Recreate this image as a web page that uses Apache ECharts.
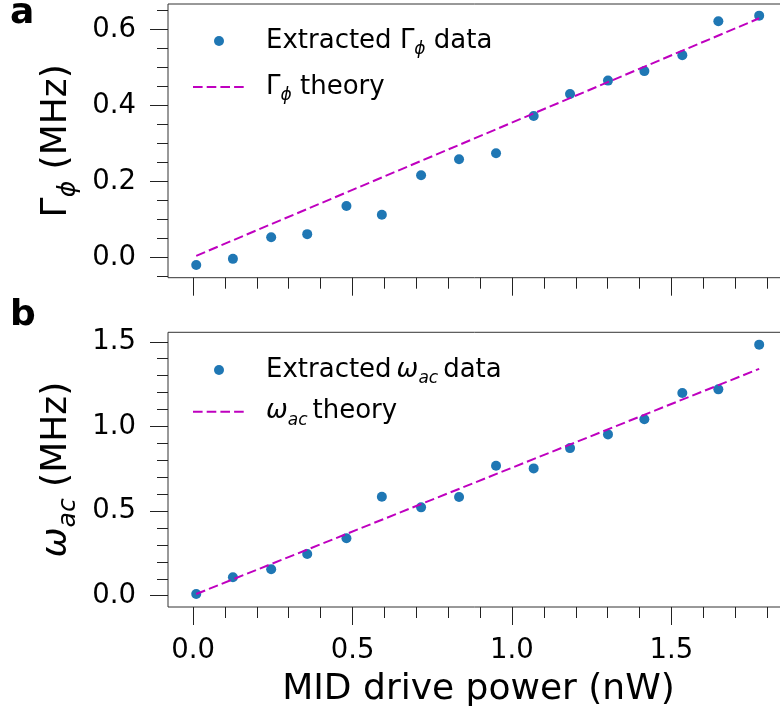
<!DOCTYPE html>
<html><head><meta charset="utf-8">
<script src="https://cdn.jsdelivr.net/npm/echarts@6/dist/echarts.min.js"></script>
<style>html,body{margin:0;padding:0;background:#fff}#c{width:780px;height:715px}</style>
</head><body><div id="c"></div>
<script>
// ---- data ----
const power    = [0.010, 0.125, 0.245, 0.358, 0.481, 0.592, 0.715, 0.834, 0.950, 1.068, 1.182, 1.301, 1.415, 1.534, 1.647, 1.775];
const gammaPhi = [-0.019, -0.003, 0.054, 0.062, 0.136, 0.113, 0.217, 0.259, 0.275, 0.373, 0.431, 0.466, 0.491, 0.533, 0.622, 0.637];
const omegaAc  = [0.010, 0.109, 0.156, 0.246, 0.339, 0.585, 0.522, 0.583, 0.768, 0.752, 0.872, 0.953, 1.042, 1.197, 1.219, 1.483];
const theoryPower = [0.010, 1.775];
const gammaTheory = [0.005, 0.630];
const omegaTheory = [0.010, 1.340];
// ---- ticks ----
const xMajor = [0, 0.5, 1.0, 1.5];
const xMinor = [0.1, 0.2, 0.3, 0.4, 0.6, 0.7, 0.8, 0.9, 1.1, 1.2, 1.3, 1.4, 1.6, 1.7, 1.8];
const gMajor = [0, 0.2, 0.4, 0.6];
const gMinor = [-0.05, 0.05, 0.1, 0.15, 0.25, 0.3, 0.35, 0.45, 0.5, 0.55, 0.65];
const wMajor = [0, 0.5, 1.0, 1.5];
const wMinor = [0.1, 0.2, 0.3, 0.4, 0.6, 0.7, 0.8, 0.9, 1.1, 1.2, 1.3, 1.4];

const FONT = 'DejaVu Sans';
const TICK = '#222';
const pairs = (xs, ys) => xs.map((x, i) => [x, ys[i]]);

const xRange = [-0.0785, 1.8685];
const gRange = [-0.0526, 0.6676];
const wRange = [-0.0667, 1.556];

function majorX(grid, labels) {
  return {
    type: 'value', gridIndex: grid, min: xRange[0], max: xRange[1], position: 'bottom',
    axisLine: { show: false, onZero: false }, splitLine: { show: false },
    axisTick: { show: true, customValues: xMajor, length: 18, lineStyle: { color: TICK, width: 1 } },
    axisLabel: { show: labels, customValues: xMajor, formatter: v => v.toFixed(1), margin: 30,
      fontFamily: FONT, fontSize: 27.5, color: '#000' }
  };
}
function minorX(grid) {
  return {
    type: 'value', gridIndex: grid, min: xRange[0], max: xRange[1], position: 'bottom',
    axisLine: { show: false, onZero: false }, splitLine: { show: false },
    axisTick: { show: true, customValues: xMinor, length: 11, lineStyle: { color: TICK, width: 1 } },
    axisLabel: { show: false }
  };
}
function majorY(grid, range, ticks, name, rich, gap) {
  return {
    type: 'value', gridIndex: grid, min: range[0], max: range[1], position: 'left',
    axisLine: { show: false, onZero: false }, splitLine: { show: false },
    axisTick: { show: true, customValues: ticks, length: 18, lineStyle: { color: TICK, width: 1 } },
    axisLabel: { customValues: ticks, formatter: v => v.toFixed(1), margin: 32,
      fontFamily: FONT, fontSize: 27.5, color: '#000' },
    name: name, nameLocation: 'middle', nameRotate: 90, nameGap: gap,
    nameTextStyle: { fontFamily: FONT, fontSize: 36, color: '#000', rich: rich }
  };
}
function minorY(grid, range, ticks) {
  return {
    type: 'value', gridIndex: grid, min: range[0], max: range[1], position: 'left',
    axisLine: { show: false, onZero: false }, splitLine: { show: false },
    axisTick: { show: true, customValues: ticks, length: 11, lineStyle: { color: TICK, width: 1 } },
    axisLabel: { show: false }
  };
}
const nameRich = {
  m: { fontFamily: FONT, fontSize: 36, lineHeight: 49, color: '#000' },
  mi: { fontFamily: FONT, fontSize: 36, lineHeight: 49, fontStyle: 'italic', color: '#000' },
  s: { fontFamily: FONT, fontSize: 25, lineHeight: 25, fontStyle: 'italic', verticalAlign: 'bottom', color: '#000' }
};
const legRich = {
  m: { fontFamily: FONT, fontSize: 26, lineHeight: 34, color: '#000' },
  mi: { fontFamily: FONT, fontSize: 26, lineHeight: 34, fontStyle: 'italic', color: '#000' },
  mip: { fontFamily: FONT, fontSize: 26, lineHeight: 34, fontStyle: 'italic', color: '#000', padding: [0, 0, 0, 5] },
  s: { fontFamily: FONT, fontSize: 17, lineHeight: 17, fontStyle: 'italic', verticalAlign: 'bottom', color: '#000' },
  mp: { fontFamily: FONT, fontSize: 26, lineHeight: 34, color: '#000', padding: [0, 0, 0, 5] }
};
const legendText = {
  gData: '{m|Extracted Γ}{s|ϕ}{m| data}',
  gTheory: '{m|Γ}{s|ϕ}{m| theory}',
  wData: '{m|Extracted}{mip|ω}{s|ac}{mp|data}',
  wTheory: '{mi|ω}{s|ac}{mp|theory}'
};
function legend(names, top, gap) {
  return {
    data: names.map(n => n.indexOf('Theory') > 0 ? { name: n, itemStyle: { opacity: 0 } } : n),
    orient: 'vertical', left: 192, top: top, padding: 0,
    itemWidth: 52, itemHeight: 10, itemGap: gap,
    formatter: n => legendText[n],
    textStyle: { fontFamily: FONT, fontSize: 26, color: '#000', rich: legRich, padding: [0, 0, 0, 16] }
  };
}
const dash = { color: '#bf00bf', width: 2, type: [9.6, 4.1] };

const chart = echarts.init(document.getElementById('c'), null, { renderer: 'canvas' });
chart.setOption({
  animation: false,
  backgroundColor: '#fff',
  grid: [
    { left: 168, right: -9, top: 4, height: 273.7, containLabel: false, outerBoundsMode: 'none',
      show: true, borderColor: '#333', borderWidth: 1, backgroundColor: 'transparent' },
    { left: 168, right: -9, top: 332.3, height: 274.7, containLabel: false, outerBoundsMode: 'none',
      show: true, borderColor: '#333', borderWidth: 1, backgroundColor: 'transparent' }
  ],
  xAxis: [majorX(0, false), minorX(0), Object.assign(majorX(1, true), {
      name: 'MID drive power (nW)', nameLocation: 'middle', nameGap: 65,
      nameTextStyle: { fontFamily: FONT, fontSize: 36, lineHeight: 36, color: '#000' } }), minorX(1)],
  yAxis: [
    majorY(0, gRange, gMajor, '{m|Γ}{s|ϕ}{m| (MHz)}', nameRich, 86), minorY(0, gRange, gMinor),
    majorY(1, wRange, wMajor, '{mi|ω}{s|ac}{m| (MHz)}', nameRich, 86), minorY(1, wRange, wMinor)
  ],
  legend: [legend(['gData', 'gTheory'], 28, 16), legend(['wData', 'wTheory'], 357, 11.7)],
  graphic: [
    { type: 'text', x: 10, y: 13.5, style: { text: 'a', font: 'bold 36px "DejaVu Sans"', fill: '#000', verticalAlign: 'middle' } },
    { type: 'text', x: 10, y: 315.5, style: { text: 'b', font: 'bold 36px "DejaVu Sans"', fill: '#000', verticalAlign: 'middle' } }
  ],
  series: [
    { name: 'gData', type: 'scatter', xAxisIndex: 0, yAxisIndex: 0, data: pairs(power, gammaPhi),
      symbolSize: 10, itemStyle: { color: '#1f77b4', opacity: 1 }, z: 2 },
    { name: 'gTheory', type: 'line', xAxisIndex: 0, yAxisIndex: 0, data: pairs(theoryPower, gammaTheory),
      symbol: 'none', lineStyle: dash, itemStyle: { color: '#bf00bf' }, z: 3 },
    { name: 'wData', type: 'scatter', xAxisIndex: 2, yAxisIndex: 2, data: pairs(power, omegaAc),
      symbolSize: 10, itemStyle: { color: '#1f77b4', opacity: 1 }, z: 2 },
    { name: 'wTheory', type: 'line', xAxisIndex: 2, yAxisIndex: 2, data: pairs(theoryPower, omegaTheory),
      symbol: 'none', lineStyle: dash, itemStyle: { color: '#bf00bf' }, z: 3 }
  ]
});
</script></body></html>
